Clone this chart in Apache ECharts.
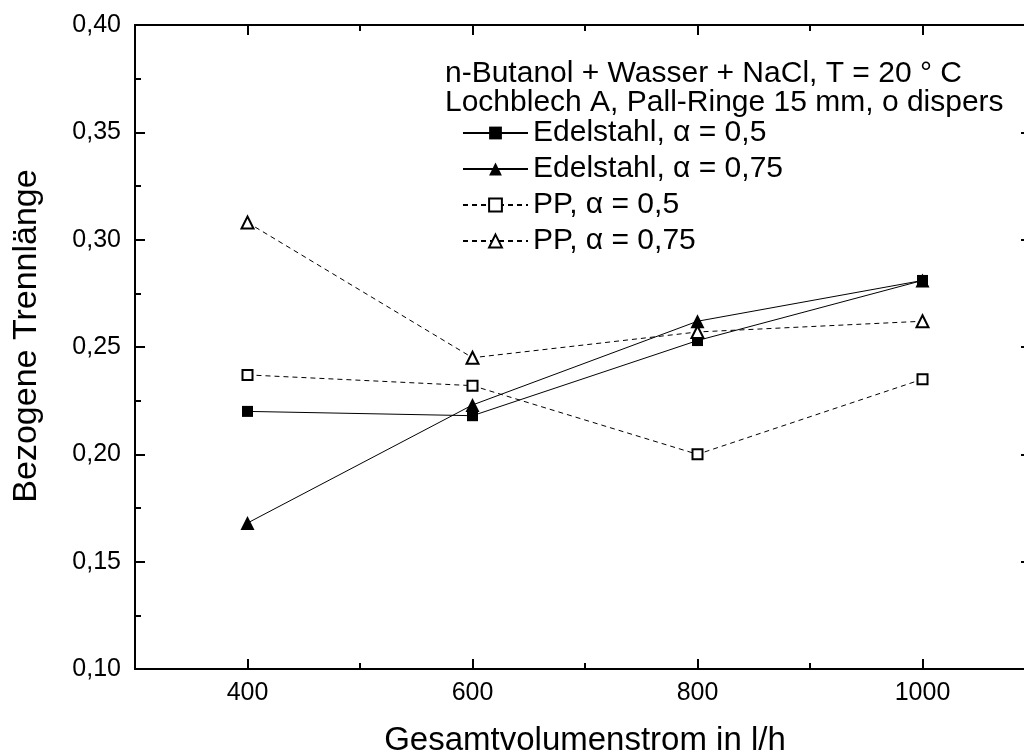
<!DOCTYPE html>
<html>
<head>
<meta charset="utf-8">
<script src="https://cdn.jsdelivr.net/npm/echarts@6/dist/echarts.min.js"></script>
<style>html,body{margin:0;padding:0;background:#fff}#c{width:1024px;height:756px}</style>
</head>
<body>
<div id="c"></div>
<script>
var xValues = [400, 600, 800, 1000];
var edelstahl05 = [0.220, 0.218, 0.253, 0.281];
var edelstahl075 = [0.168, 0.223, 0.262, 0.281];
var pp05 = [0.237, 0.232, 0.200, 0.235];
var pp075 = [0.308, 0.245, 0.257, 0.262];
var seriesNames = ['Edelstahl, α = 0,5', 'Edelstahl, α = 0,75', 'PP, α = 0,5', 'PP, α = 0,75'];
var xMajorTicks = [400, 600, 800, 1000];
var xMinorTicks = [500, 700, 900];
var titleLines = ['n-Butanol + Wasser + NaCl, T = 20 ° C', 'Lochblech A, Pall-Ringe 15 mm, o dispers'];
var xTitle = 'Gesamtvolumenstrom in l/h';
var yTitle = 'Bezogene Trennlänge';

function pairs(vals) { return xValues.map(function (x, i) { return [x, vals[i]]; }); }

var FONT = '"Liberation Sans", Arial, sans-serif';
var black = '#000';
var axisLine = { show: true, lineStyle: { color: black, width: 2 } };

function xAx(pos, ticks, len, withLine, withLabel) {
  var a = {
    type: 'value', position: pos, min: 300, max: 1100, gridIndex: 0,
    axisLine: withLine ? axisLine : { show: false },
    axisTick: { show: true, inside: true, length: len, customValues: ticks, lineStyle: { color: black, width: 2 } },
    axisLabel: withLabel ? { show: true, customValues: xMajorTicks, color: black, fontSize: 25, fontFamily: FONT, margin: 12,
      formatter: function (v) { return String(v); } } : { show: false },
    splitLine: { show: false }
  };
  if (withLabel) {
    a.name = xTitle; a.nameLocation = 'middle'; a.nameGap = 55;
    a.nameTextStyle = { color: black, fontSize: 33, fontFamily: FONT };
  }
  return a;
}

function yAx(pos, withLabel, len) {
  var a = {
    type: 'value', position: pos, min: 0.1, max: 0.4, interval: 0.05,
    axisLine: axisLine,
    axisTick: { show: true, inside: true, length: len, lineStyle: { color: black, width: 2 } },
    minorTick: { show: true, splitNumber: 2, length: 6, lineStyle: { color: black, width: 2 } },
    axisLabel: withLabel ? { show: true, color: black, fontSize: 25, fontFamily: FONT, margin: 14,
      formatter: function (v) { return v.toFixed(2).replace('.', ','); } } : { show: false },
    splitLine: { show: false }, minorSplitLine: { show: false }
  };
  if (withLabel) {
    a.name = yTitle; a.nameLocation = 'middle'; a.nameGap = 91; a.nameRotate = 90;
    a.nameTextStyle = { color: black, fontSize: 34, fontFamily: FONT, padding: [0, 0, 0, 22] };
  }
  return a;
}

function lineSeries(name, vals, symbol, filled, dashed, size) {
  return {
    name: name, type: 'line', data: pairs(vals), xAxisIndex: 0, yAxisIndex: 0,
    symbol: symbol, symbolSize: size, showSymbol: true,
    lineStyle: { color: black, width: 1, type: dashed ? [5, 4] : 'solid' },
    itemStyle: { color: filled ? black : '#fff', borderColor: black, borderWidth: filled ? 0 : 2 },
    emphasis: { disabled: true }, animation: false
  };
}

var chart = echarts.init(document.getElementById('c'), null, { renderer: 'canvas' });
chart.setOption({
  animation: false,
  backgroundColor: '#fff',
  grid: { left: 135, top: 25, width: 900, height: 644, containLabel: false, outerBoundsMode: 'none' },
  title: {
    text: titleLines.join('\n'), left: 445, top: 59, padding: 0,
    textStyle: { color: black, fontSize: 30, fontWeight: 'normal', fontFamily: FONT, lineHeight: 29 }
  },
  legend: {
    orient: 'vertical', left: 462, top: 118, padding: 0, itemWidth: 65, itemHeight: 16, itemGap: 6,
    textStyle: { color: black, fontSize: 30, fontFamily: FONT, lineHeight: 30 },
    data: seriesNames, selectedMode: false
  },
  xAxis: [
    xAx('bottom', xMajorTicks, 10, true, true),
    xAx('bottom', xMinorTicks, 6, false, false),
    xAx('top', xMajorTicks, 10, true, false),
    xAx('top', xMinorTicks, 6, false, false)
  ],
  yAxis: [yAx('left', true, 10), yAx('right', false, 14)],
  series: [
    lineSeries(seriesNames[0], edelstahl05, 'rect', true, false, 11),
    lineSeries(seriesNames[1], edelstahl075, 'triangle', true, false, 14),
    lineSeries(seriesNames[2], pp05, 'rect', false, true, 10),
    lineSeries(seriesNames[3], pp075, 'triangle', false, true, 12)
  ]
});
</script>
</body>
</html>
